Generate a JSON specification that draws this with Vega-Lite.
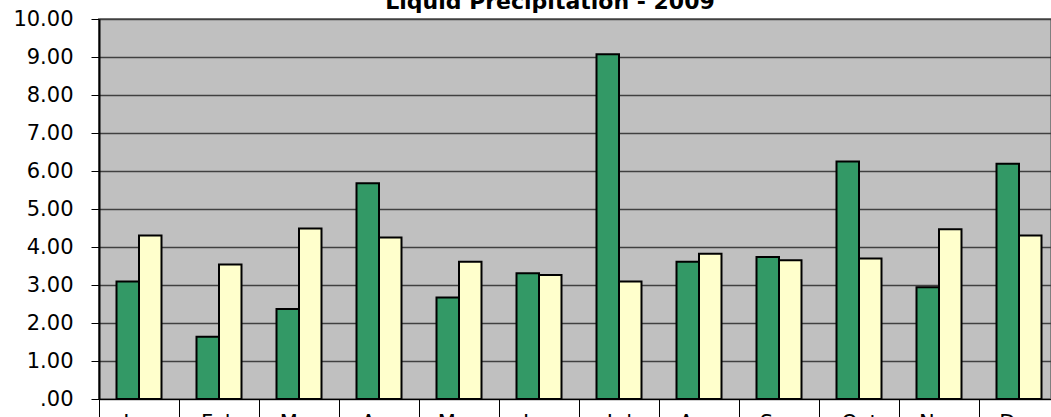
{
  "$schema": "https://vega.github.io/schema/vega-lite/v6.json",
  "autosize": {"type": "none"},
  "padding": {"left": 99, "top": 19, "right": 0, "bottom": 18},
  "width": 952,
  "height": 380,
  "background": "white",
  "title": {
    "text": "Liquid Precipitation - 2009",
    "font": "DejaVu Sans",
    "fontSize": 22,
    "fontWeight": "bold",
    "color": "black",
    "anchor": "middle",
    "frame": "group",
    "offset": -6,
    "dx": -25
  },
  "config": {
    "view": {"fill": "#C0C0C0", "stroke": "#808080", "strokeWidth": 2},
    "axis": {"labelFont": "DejaVu Sans", "labelFontSize": 21, "labelColor": "black"}
  },
  "data": {
    "values": [
      {"month": "Jan", "series": "2009", "value": 3.09},
      {"month": "Jan", "series": "Normal", "value": 4.30},
      {"month": "Feb", "series": "2009", "value": 1.64},
      {"month": "Feb", "series": "Normal", "value": 3.54},
      {"month": "Mar", "series": "2009", "value": 2.37},
      {"month": "Mar", "series": "Normal", "value": 4.49},
      {"month": "Apr", "series": "2009", "value": 5.68},
      {"month": "Apr", "series": "Normal", "value": 4.25},
      {"month": "May", "series": "2009", "value": 2.67},
      {"month": "May", "series": "Normal", "value": 3.61},
      {"month": "Jun", "series": "2009", "value": 3.31},
      {"month": "Jun", "series": "Normal", "value": 3.26},
      {"month": "Jul", "series": "2009", "value": 9.07},
      {"month": "Jul", "series": "Normal", "value": 3.09},
      {"month": "Aug", "series": "2009", "value": 3.61},
      {"month": "Aug", "series": "Normal", "value": 3.82},
      {"month": "Sep", "series": "2009", "value": 3.74},
      {"month": "Sep", "series": "Normal", "value": 3.65},
      {"month": "Oct", "series": "2009", "value": 6.25},
      {"month": "Oct", "series": "Normal", "value": 3.70},
      {"month": "Nov", "series": "2009", "value": 2.94},
      {"month": "Nov", "series": "Normal", "value": 4.47},
      {"month": "Dec", "series": "2009", "value": 6.19},
      {"month": "Dec", "series": "Normal", "value": 4.30}
    ]
  },
  "mark": {"type": "bar", "stroke": "black", "strokeWidth": 2, "clip": true},
  "encoding": {
    "x": {
      "field": "month",
      "type": "nominal",
      "sort": null,
      "scale": {"range": [0, 960], "paddingInner": 0, "paddingOuter": 0},
      "axis": {
        "title": null,
        "labelAngle": 0,
        "domainColor": "black",
        "domainWidth": 1,
        "tickBand": "extent",
        "tickColor": "black",
        "tickSize": 20,
        "tickWidth": 1,
        "labelPadding": -7,
        "labelBaseline": "top"
      }
    },
    "xOffset": {
      "field": "series",
      "type": "nominal",
      "scale": {"paddingInner": 0, "paddingOuter": 0.778}
    },
    "y": {
      "field": "value",
      "type": "quantitative",
      "scale": {"domain": [0, 10], "nice": false},
      "axis": {
        "title": null,
        "values": [0, 1, 2, 3, 4, 5, 6, 7, 8, 9, 10],
        "labelExpr": "datum.value == 0 ? '.00' : format(datum.value, '.2f')",
        "domainColor": "black",
        "domainWidth": 2,
        "tickColor": "black",
        "tickSize": 8,
        "tickWidth": 1,
        "labelPadding": 18,
        "grid": true,
        "gridColor": "#404040",
        "gridWidth": 1.3
      }
    },
    "fill": {
      "field": "series",
      "type": "nominal",
      "scale": {"domain": ["2009", "Normal"], "range": ["#339966", "#FFFFCC"]},
      "legend": null
    }
  }
}
